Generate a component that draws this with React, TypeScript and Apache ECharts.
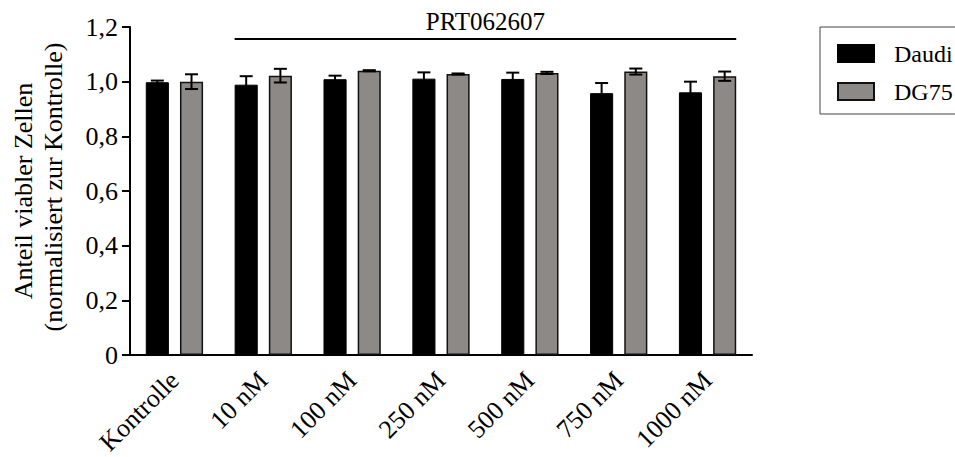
import React, { useEffect, useRef } from "react";
import * as echarts from "echarts";

const categories = ["Kontrolle", "10 nM", "100 nM", "250 nM", "500 nM", "750 nM", "1000 nM"];
const seriesNames = ["Daudi", "DG75"];
const daudiMean = [0.998, 0.989, 1.009, 1.011, 1.01, 0.958, 0.961];
const daudiErr = [0.006, 0.031, 0.013, 0.023, 0.023, 0.037, 0.039];
const dg75Mean = [1.0, 1.022, 1.04, 1.028, 1.032, 1.037, 1.02];
const dg75Err = [0.027, 0.025, 0.002, 0.002, 0.004, 0.011, 0.017];
const yTicks = [0, 0.2, 0.4, 0.6, 0.8, 1.0, 1.2];
const groupLabel = "PRT062607";
const yTitleLines = ["Anteil viabler Zellen", "(normalisiert zur Kontrolle)"];

const FONT = "'Liberation Serif', 'Times New Roman', serif";
const GREY = "#8d8986";
const BAR_W = 0.26; // bar width as a share of the category band
const BAR_GAP = 0.48; // gap between bars relative to bar width
const HALF_SHIFT = (BAR_W * (1 + BAR_GAP)) / 2;

function errorSeries(name: string, means: number[], errs: number[], sign: number) {
  return {
    type: "custom",
    name: name + " SEM",
    silent: true,
    z: 5,
    data: categories.map((c, i) => [i, means[i], errs[i]]),
    renderItem: (params: any, api: any) => {
      const idx = api.value(0);
      const m = api.value(1);
      const e = api.value(2);
      const band = api.size([1, 0])[0];
      const base = api.coord([idx, m]);
      const x = base[0] + sign * band * HALF_SHIFT;
      const yTop = api.coord([idx, m + e])[1];
      const yBot = api.coord([idx, m - e])[1];
      const cap = 6.5;
      const style = { stroke: "#000", lineWidth: 2 };
      return {
        type: "group",
        children: [
          { type: "line", shape: { x1: x, y1: yTop, x2: x, y2: yBot }, style },
          { type: "line", shape: { x1: x - cap, y1: yTop, x2: x + cap, y2: yTop }, style },
          { type: "line", shape: { x1: x - cap, y1: yBot, x2: x + cap, y2: yBot }, style },
        ],
      };
    },
  };
}

export default function App() {
  const ref = useRef<HTMLDivElement>(null);

  useEffect(() => {
    if (!ref.current) return;
    const chart = echarts.init(ref.current, null, { renderer: "svg" });
    const gridTop = 27;
    const gridBottom = 102;
    const option: any = {
      animation: false,
      textStyle: { fontFamily: FONT },
      grid: {
        left: 130,
        right: 203,
        top: gridTop,
        bottom: gridBottom,
        containLabel: false,
        outerBoundsMode: "none",
      },
      legend: {
        data: seriesNames.map((n) => ({ name: n, icon: "rect" })),
        orient: "vertical",
        left: 820,
        top: 27,
        padding: [13, 30, 9, 17],
        itemWidth: 36,
        itemHeight: 17,
        itemGap: 11,
        borderColor: "#444",
        borderWidth: 1,
        textStyle: {
          fontFamily: FONT,
          fontSize: 24,
          color: "#000",
          padding: [0, 0, 0, 15],
          lineHeight: 27,
        },
      },
      xAxis: {
        type: "category",
        data: categories,
        axisLine: { lineStyle: { color: "#000", width: 2 } },
        axisTick: { alignWithLabel: true, length: 8, lineStyle: { color: "#000", width: 2 } },
        axisLabel: {
          rotate: 45,
          margin: 21,
          color: "#000",
          fontFamily: FONT,
          fontSize: 26,
          interval: 0,
        },
      },
      yAxis: {
        type: "value",
        min: 0,
        max: 1.2,
        interval: 0.2,
        splitLine: { show: false },
        axisLine: { show: true, lineStyle: { color: "#000", width: 2 } },
        axisTick: { show: true, length: 8, lineStyle: { color: "#000", width: 2 } },
        axisLabel: {
          margin: 12,
          color: "#000",
          fontFamily: FONT,
          fontSize: 26,
          formatter: (v: number) => {
            const t = yTicks.find((k) => Math.abs(k - v) < 1e-6);
            if (t === undefined) return "";
            return t === 0 ? "0" : t.toFixed(1).replace(".", ",");
          },
        },
      },
      series: [
        {
          name: seriesNames[0],
          type: "bar",
          data: daudiMean,
          barWidth: BAR_W * 100 + "%",
          barGap: BAR_GAP * 100 + "%",
          itemStyle: { color: "#000", borderColor: "#000", borderWidth: 1 },
        },
        {
          name: seriesNames[1],
          type: "bar",
          data: dg75Mean,
          barWidth: BAR_W * 100 + "%",
          barGap: BAR_GAP * 100 + "%",
          itemStyle: { color: GREY, borderColor: "#111", borderWidth: 1.5 },
        },
        errorSeries(seriesNames[0], daudiMean, daudiErr, -1),
        errorSeries(seriesNames[1], dg75Mean, dg75Err, 1),
      ],
    };
    chart.setOption(option);

    // bracket over the treated groups, placed from the axis scale
    const first = chart.convertToPixel({ xAxisIndex: 0 }, categories[1]) as number;
    const last = chart.convertToPixel({ xAxisIndex: 0 }, categories[categories.length - 1]) as number;
    const second = chart.convertToPixel({ xAxisIndex: 0 }, categories[2]) as number;
    const band = second - first;
    const outer = band * (HALF_SHIFT + BAR_W / 2);
    const x1 = first - outer;
    const x2 = last + outer;
    const yLine = 39;
    const plotMidY = (gridTop + (457 - gridBottom)) / 2;
    chart.setOption({
      graphic: [
        {
          type: "line",
          shape: { x1, y1: yLine, x2, y2: yLine },
          style: { stroke: "#000", lineWidth: 2 },
        },
        {
          type: "text",
          x: (x1 + x2) / 2,
          y: 21,
          style: {
            text: groupLabel,
            font: `25px ${FONT}`,
            fill: "#000",
            textAlign: "center",
            textVerticalAlign: "middle",
          },
        },
        {
          type: "text",
          x: 23,
          y: plotMidY,
          rotation: Math.PI / 2,
          style: {
            text: yTitleLines[0],
            font: `26px ${FONT}`,
            fill: "#000",
            textAlign: "center",
            textVerticalAlign: "middle",
          },
        },
        {
          type: "text",
          x: 53,
          y: plotMidY - 4,
          rotation: Math.PI / 2,
          style: {
            text: yTitleLines[1],
            font: `26px ${FONT}`,
            fill: "#000",
            textAlign: "center",
            textVerticalAlign: "middle",
          },
        },
      ],
    });

    return () => chart.dispose();
  }, []);

  return (
    <div
      ref={ref}
      style={{ width: 955, height: 457, position: "absolute", left: 0, top: 0 }}
    />
  );
}
